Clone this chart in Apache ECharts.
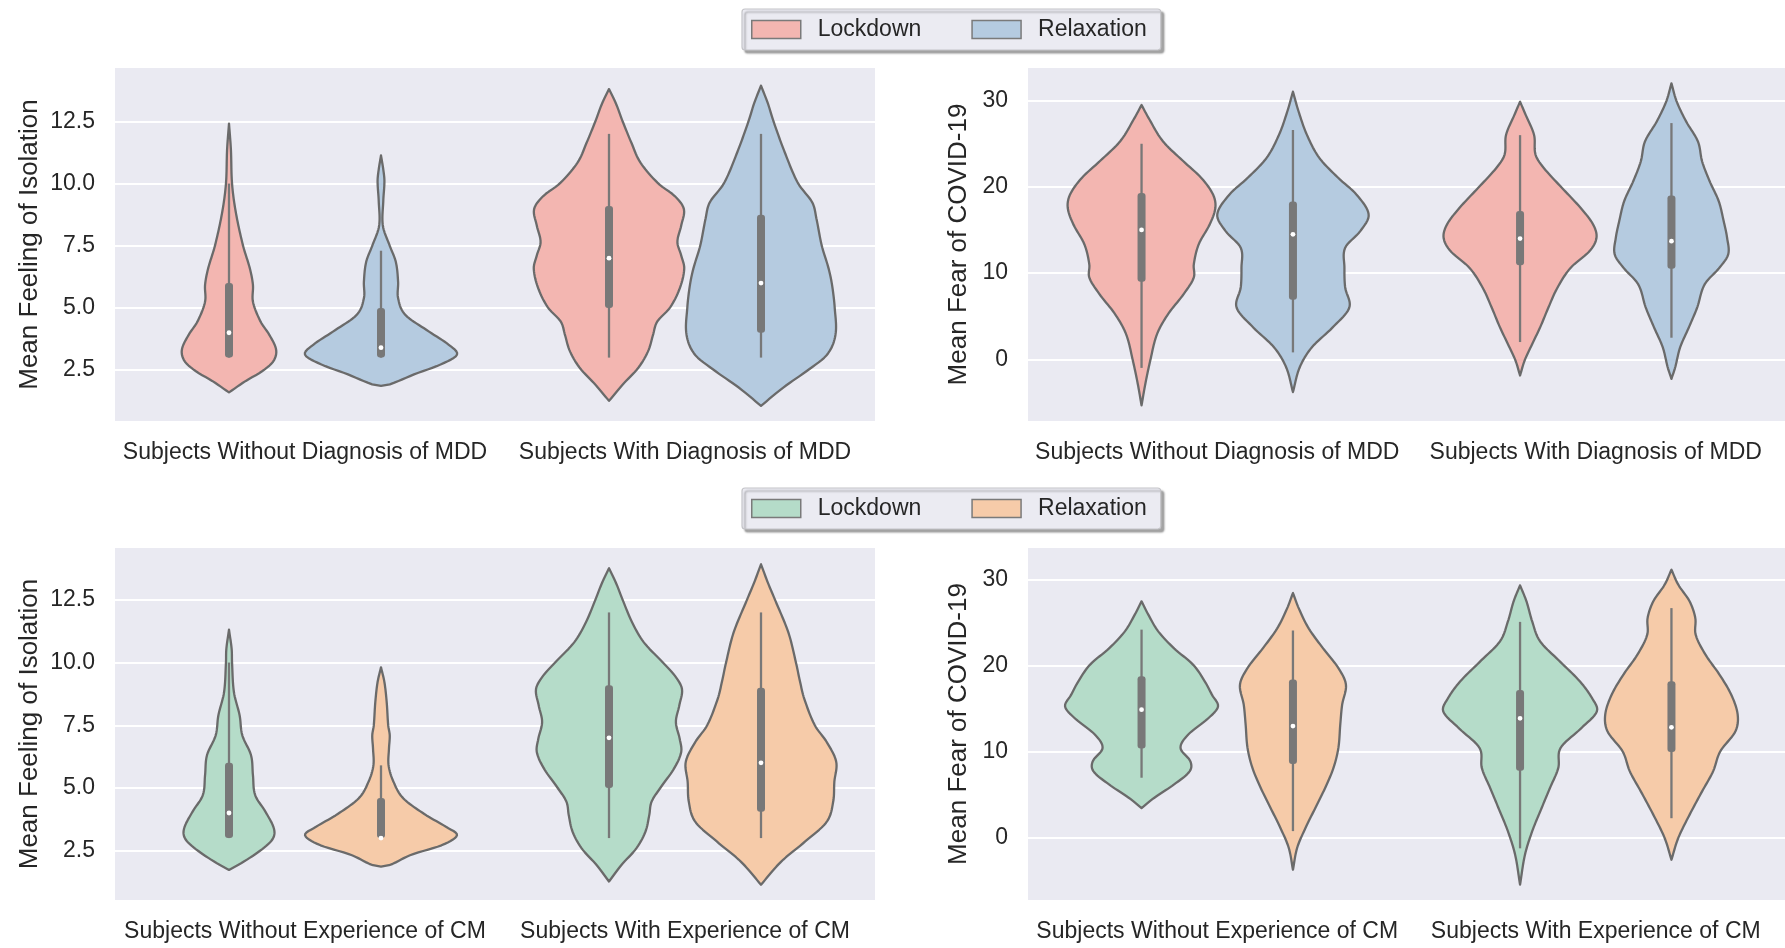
<!DOCTYPE html>
<html>
<head>
<meta charset="utf-8">
<script src="https://cdn.jsdelivr.net/npm/echarts@6/dist/echarts.min.js"></script>
<style>
html,body{margin:0;padding:0;background:#ffffff;}
#chart{width:1785px;height:948px;}
</style>
</head>
<body>
<div id="chart"></div>
<script>
// ---------------- categories & labels ----------------
const catsMDD = ['Subjects Without Diagnosis of MDD', 'Subjects With Diagnosis of MDD'];
const catsCM = ['Subjects Without Experience of CM', 'Subjects With Experience of CM'];
const hueNames = ['Lockdown', 'Relaxation'];
const isoTicks = [2.5, 5.0, 7.5, 10.0, 12.5];
const fearTicks = [0, 10, 20, 30];

// ---------------- violin outlines: [value, half-width as fraction of category band] ----------------
// Top-left: Mean Feeling of Isolation by MDD
const isoMddLockNo = [[12.41,0],[11.37,0.005],[10.0,0.008],[8.84,0.018],[7.5,0.037],[6.58,0.055],[5.92,0.063],[5.25,0.063],[4.45,0.083],[3.92,0.106],[3.32,0.124],[2.86,0.117],[2.46,0.088],[2.06,0.044],[1.6,0]];
const isoMddRelaxNo = [[11.13,0],[10.57,0.006],[10.1,0.009],[9.3,0.006],[8.3,0.005],[7.5,0.023],[6.85,0.039],[6.05,0.045],[5.39,0.045],[4.72,0.064],[4.06,0.125],[3.52,0.178],[3.12,0.2],[2.73,0.158],[2.33,0.088],[1.93,0.024],[1.86,0]];
const isoMddLockYes = [[13.8,0],[13.23,0.018],[12.5,0.036],[11.64,0.059],[10.84,0.083],[10.0,0.13],[9.5,0.173],[8.98,0.197],[8.31,0.19],[7.65,0.18],[7.11,0.19],[6.58,0.198],[5.78,0.186],[5.0,0.16],[4.45,0.127],[3.92,0.116],[3.26,0.103],[2.59,0.077],[1.93,0.037],[1.26,0]];
const isoMddRelaxYes = [[13.94,0],[13.23,0.018],[12.5,0.033],[11.24,0.063],[10.0,0.098],[9.24,0.135],[8.58,0.146],[7.5,0.16],[6.58,0.178],[5.92,0.187],[5.0,0.194],[3.92,0.196],[3.12,0.174],[2.49,0.123],[1.8,0.059],[1.06,0]];
// Top-right: Mean Fear of COVID-19 by MDD
const fearMddLockNo = [[29.5,0],[27.96,0.019],[25.26,0.057],[22.95,0.111],[21.03,0.158],[19.1,0.189],[17.56,0.195],[15.64,0.18],[13.33,0.151],[11.0,0.138],[9.48,0.138],[7.55,0.111],[5.24,0.07],[2.93,0.041],[-0.15,0.023],[-2.85,0.01],[-5.35,0]];
const fearMddRelaxNo = [[31.04,0],[28.73,0.015],[26.03,0.037],[23.34,0.07],[21.03,0.12],[19.1,0.168],[16.79,0.2],[14.87,0.178],[12.94,0.138],[10.63,0.136],[8.32,0.138],[6.01,0.149],[3.7,0.105],[1.39,0.05],[-0.92,0.018],[-3.8,0]];
const fearMddLockYes = [[29.88,0],[28.34,0.015],[26.03,0.037],[23.72,0.041],[22.18,0.063],[19.87,0.111],[17.56,0.16],[15.64,0.193],[14.1,0.202],[12.56,0.184],[10.63,0.134],[8.32,0.099],[6.01,0.075],[3.7,0.053],[1.39,0.028],[-0.15,0.012],[-1.88,0]];
const fearMddRelaxYes = [[32.0,0],[29.88,0.014],[27.57,0.039],[25.26,0.07],[22.95,0.081],[20.65,0.101],[18.33,0.125],[16.02,0.138],[14.1,0.147],[12.17,0.15],[10.63,0.127],[8.71,0.088],[6.01,0.068],[3.7,0.046],[1.39,0.023],[-0.92,0.01],[-2.27,0]];
// Bottom-left: Mean Feeling of Isolation by CM
const isoCmLockNo = [[11.31,0],[10.54,0.007],[10.0,0.008],[8.82,0.013],[7.89,0.028],[7.1,0.035],[6.3,0.058],[5.51,0.063],[4.71,0.069],[4.05,0.096],[3.39,0.118],[2.99,0.116],[2.59,0.09],[2.06,0.039],[1.73,0]];
const isoCmRelaxNo = [[9.81,0],[9.22,0.009],[8.42,0.015],[7.49,0.019],[7.1,0.023],[6.57,0.021],[5.9,0.02],[5.24,0.033],[4.58,0.059],[3.92,0.118],[3.45,0.171],[3.12,0.2],[2.73,0.162],[2.33,0.079],[1.93,0.024],[1.86,0]];
const isoCmLockYes = [[13.76,0],[13.19,0.018],[12.5,0.036],[11.6,0.061],[10.8,0.092],[10.0,0.142],[9.48,0.173],[8.95,0.192],[8.29,0.185],[7.63,0.176],[6.96,0.186],[6.43,0.19],[5.77,0.171],[5.02,0.136],[4.45,0.112],[3.92,0.106],[3.26,0.096],[2.59,0.072],[1.93,0.033],[1.27,0]];
const isoCmRelaxYes = [[13.92,0],[13.19,0.018],[12.5,0.037],[11.2,0.072],[10.0,0.092],[9.22,0.103],[8.55,0.114],[7.49,0.142],[6.83,0.173],[6.04,0.198],[5.24,0.193],[4.45,0.19],[3.65,0.173],[2.86,0.116],[2.06,0.053],[1.14,0]];
// Bottom-right: Mean Fear of COVID-19 by CM
const fearCmLockNo = [[27.48,0],[25.93,0.018],[24.0,0.044],[22.06,0.085],[20.13,0.136],[18.19,0.167],[16.64,0.186],[15.29,0.202],[13.93,0.177],[12.0,0.123],[10.45,0.103],[8.9,0.129],[7.74,0.127],[6.19,0.085],[4.65,0.033],[3.48,0]];
const fearCmRelaxNo = [[28.45,0],[26.71,0.015],[24.39,0.041],[22.06,0.079],[19.74,0.12],[17.8,0.14],[15.48,0.13],[13.16,0.125],[10.45,0.12],[8.13,0.107],[5.81,0.085],[3.48,0.059],[1.16,0.033],[-1.16,0.011],[-3.68,0]];
const fearCmLockYes = [[29.34,0],[27.48,0.017],[25.16,0.032],[22.84,0.053],[20.52,0.105],[18.19,0.158],[16.26,0.19],[14.71,0.203],[12.77,0.162],[10.45,0.107],[8.13,0.101],[5.81,0.079],[3.48,0.057],[0.77,0.032],[-1.94,0.013],[-5.42,0]];
const fearCmRelaxYes = [[31.16,0],[29.42,0.018],[27.48,0.048],[25.55,0.063],[23.61,0.064],[21.29,0.09],[18.97,0.127],[16.64,0.158],[14.32,0.175],[12.39,0.169],[10.06,0.129],[7.74,0.11],[5.42,0.081],[2.71,0.048],[0.0,0.018],[-2.52,0]];

// ---------------- inner box stats: [q1, median, q3, whiskerLow, whiskerHigh] ----------------
const boxIsoMddLock = [[3.0,4.0,6.0,3.0,10.0],[5.0,7.0,9.1,3.0,12.0]];
const boxIsoMddRelax = [[3.0,3.4,5.0,3.0,7.3],[4.0,6.0,8.75,3.0,12.0]];
const boxFearMddLock = [[9.0,15.0,19.3,-1.0,25.0],[10.9,14.0,17.2,2.0,26.0]];
const boxFearMddRelax = [[6.9,14.5,18.3,0.8,26.6],[10.5,13.7,19.0,2.5,27.4]];
const boxIsoCmLock = [[3.0,4.0,6.0,3.0,10.0],[5.0,7.0,9.1,3.0,12.0]];
const boxIsoCmRelax = [[3.0,3.0,4.6,3.0,5.9],[4.05,6.0,9.0,3.0,12.0]];
const boxFearCmLock = [[10.4,14.9,18.8,7.0,24.2],[7.8,13.9,17.2,-1.2,25.1]];
const boxFearCmRelax = [[8.6,13.0,18.4,0.8,24.1],[10.0,12.85,18.2,2.3,26.7]];

// ---------------- styling ----------------
const colMddLock = '#f3b6b1', colMddRelax = '#b5cbe0';
const colCmLock = '#b5dcc9', colCmRelax = '#f6cba9';
const lineGray = '#6a6a6a';
const boxGray = '#787878';
const bgColor = '#eaeaf2';
const textColor = '#262626';
const FONT = 'Liberation Sans, Arial, sans-serif';

// Cubic Hermite (Catmull-Rom style tangents) through the traced outline points, used only to draw a smooth edge.
function smoothOutline(prof, samples) {
  const p = prof.slice().sort((a, b) => a[0] - b[0]);
  const n = p.length;
  const xs = p.map(q => q[0]), ys = p.map(q => q[1]);
  const m = new Array(n);
  for (let i = 0; i < n; i++) {
    if (i === 0) m[i] = (ys[1] - ys[0]) / (xs[1] - xs[0]);
    else if (i === n - 1) m[i] = (ys[n - 1] - ys[n - 2]) / (xs[n - 1] - xs[n - 2]);
    else m[i] = (ys[i + 1] - ys[i - 1]) / (xs[i + 1] - xs[i - 1]);
  }
  const out = [];
  const lo = xs[0], hi = xs[n - 1];
  let k = 0;
  for (let s = 0; s <= samples; s++) {
    const x = lo + (hi - lo) * s / samples;
    while (k < n - 2 && x > xs[k + 1]) k++;
    const h = xs[k + 1] - xs[k];
    const t = Math.min(1, Math.max(0, (x - xs[k]) / h));
    const t2 = t * t, t3 = t2 * t;
    const y = (2 * t3 - 3 * t2 + 1) * ys[k] + (t3 - 2 * t2 + t) * h * m[k]
            + (-2 * t3 + 3 * t2) * ys[k + 1] + (t3 - t2) * h * m[k + 1];
    out.push([x, Math.max(0, y)]);
  }
  return out; // ascending by value
}

function makeRender(profiles, side) {
  return function (params, api) {
    const cat = api.value(0);
    const band = api.size([1, 0])[0];
    const cx = api.coord([cat, 0])[0] + side * 0.2 * band;
    const prof = smoothOutline(profiles[params.dataIndex], 140);
    const right = prof.map(p => [cx + p[1] * band, api.coord([cat, p[0]])[1]]);
    const left = prof.slice(1, -1).reverse().map(p => [cx - p[1] * band, api.coord([cat, p[0]])[1]]);
    const pts = right.concat(left);
    const yq1 = api.coord([cat, api.value(1)])[1];
    const ymed = api.coord([cat, api.value(2)])[1];
    const yq3 = api.coord([cat, api.value(3)])[1];
    const ylo = api.coord([cat, api.value(4)])[1];
    const yhi = api.coord([cat, api.value(5)])[1];
    const bw = 8;
    return {
      type: 'group',
      children: [
        { type: 'polygon', shape: { points: pts },
          style: { fill: api.visual('color'), stroke: lineGray, lineWidth: 2.3, lineJoin: 'round' } },
        { type: 'line', shape: { x1: cx, y1: yhi, x2: cx, y2: ylo },
          style: { stroke: boxGray, lineWidth: 2.3 } },
        { type: 'rect', shape: { x: cx - bw / 2, y: yq3, width: bw, height: yq1 - yq3, r: 3 },
          style: { fill: boxGray } },
        { type: 'circle', shape: { cx: cx, cy: ymed, r: 2.4 }, style: { fill: '#ffffff' } }
      ]
    };
  };
}

function seriesFor(name, idx, profiles, boxes, side, color) {
  return {
    type: 'custom',
    name: name,
    xAxisIndex: idx, yAxisIndex: idx,
    renderItem: makeRender(profiles, side),
    itemStyle: { color: color, borderColor: lineGray, borderWidth: 1.5 },
    encode: { x: 0, y: [1, 2, 3, 4, 5] },
    data: boxes.map((b, i) => [i].concat(b)),
    silent: true,
    z: 3
  };
}

const grids = [
  { left: 115, top: 68, width: 760, height: 353 },
  { left: 1028, top: 68, width: 762, height: 353 },
  { left: 115, top: 548, width: 760, height: 352 },
  { left: 1028, top: 548, width: 762, height: 352 }
].map(g => Object.assign(g, { show: true, backgroundColor: bgColor, borderWidth: 0, containLabel: false }));

function xAx(idx, cats) {
  return {
    type: 'category', gridIndex: idx, data: cats,
    axisLine: { show: false }, axisTick: { show: false }, splitLine: { show: false },
    axisLabel: { interval: 0, fontSize: 23, color: textColor, fontFamily: FONT, margin: 20 }
  };
}
function yAx(idx, min, max, ticks, name, gap, digits) {
  return {
    type: 'value', gridIndex: idx, min: min, max: max,
    name: name, nameLocation: 'middle', nameGap: gap, nameRotate: 90,
    nameTextStyle: { fontSize: 26, color: textColor, fontFamily: FONT },
    axisLine: { show: false },
    axisTick: { show: false, customValues: ticks },
    axisLabel: { customValues: ticks, fontSize: 23, color: textColor, fontFamily: FONT, margin: 20,
      formatter: v => Number(v).toFixed(digits) },
    splitLine: { show: true, lineStyle: { color: '#ffffff', width: 2 } }
  };
}

function legendAt(top, names) {
  return {
    data: names, left: 742, top: top, orient: 'horizontal',
    selectedMode: false, icon: 'rect', itemWidth: 49, itemHeight: 18, itemGap: 50,
    padding: [9, 14, 9, 9],
    backgroundColor: '#ebebf2', borderColor: '#c4c4c8', borderWidth: 1.2, borderRadius: 3,
    shadowColor: 'rgba(0,0,0,0.35)', shadowBlur: 2, shadowOffsetX: 3, shadowOffsetY: 3,
    itemStyle: { borderColor: '#7a7a7a', borderWidth: 1.5 },
    textStyle: { fontSize: 23, color: textColor, fontFamily: FONT, padding: [0, 0, 0, 12] },
    formatter: n => n.trim()
  };
}

const option = {
  animation: false,
  backgroundColor: '#ffffff',
  grid: grids,
  legend: [
    legendAt(9, [hueNames[0], hueNames[1]]),
    legendAt(488, [hueNames[0] + ' ', hueNames[1] + ' '])
  ],
  xAxis: [xAx(0, catsMDD), xAx(1, catsMDD), xAx(2, catsCM), xAx(3, catsCM)],
  yAxis: [
    yAx(0, 0.45, 14.65, isoTicks, 'Mean Feeling of Isolation', 72, 1),
    yAx(1, -7.16, 33.79, fearTicks, 'Mean Fear of COVID-19', 56, 0),
    yAx(2, 0.53, 14.57, isoTicks, 'Mean Feeling of Isolation', 72, 1),
    yAx(3, -7.2, 33.68, fearTicks, 'Mean Fear of COVID-19', 56, 0)
  ],
  series: [
    seriesFor(hueNames[0], 0, [isoMddLockNo, isoMddLockYes], boxIsoMddLock, -1, colMddLock),
    seriesFor(hueNames[1], 0, [isoMddRelaxNo, isoMddRelaxYes], boxIsoMddRelax, 1, colMddRelax),
    seriesFor(hueNames[0], 1, [fearMddLockNo, fearMddLockYes], boxFearMddLock, -1, colMddLock),
    seriesFor(hueNames[1], 1, [fearMddRelaxNo, fearMddRelaxYes], boxFearMddRelax, 1, colMddRelax),
    seriesFor(hueNames[0] + ' ', 2, [isoCmLockNo, isoCmLockYes], boxIsoCmLock, -1, colCmLock),
    seriesFor(hueNames[1] + ' ', 2, [isoCmRelaxNo, isoCmRelaxYes], boxIsoCmRelax, 1, colCmRelax),
    seriesFor(hueNames[0] + ' ', 3, [fearCmLockNo, fearCmLockYes], boxFearCmLock, -1, colCmLock),
    seriesFor(hueNames[1] + ' ', 3, [fearCmRelaxNo, fearCmRelaxYes], boxFearCmRelax, 1, colCmRelax)
  ]
};

const chart = echarts.init(document.getElementById('chart'), null, { renderer: 'canvas' });
chart.setOption(option);
</script>
</body>
</html>
